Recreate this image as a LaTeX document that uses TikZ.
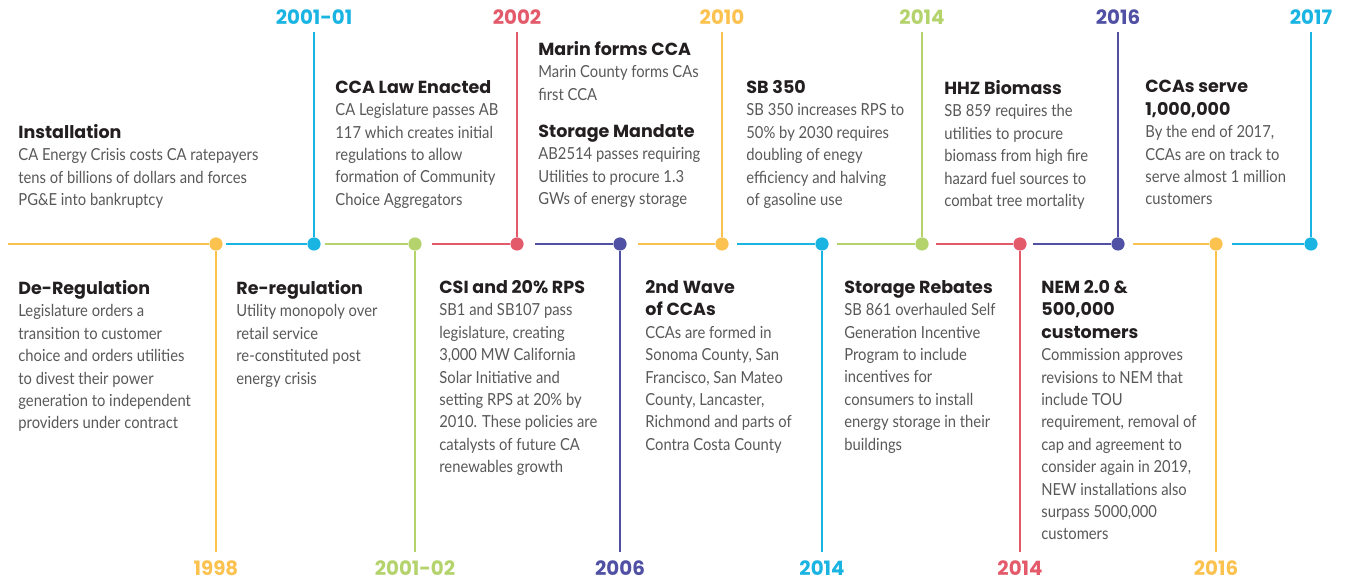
\documentclass[tikz,border=0pt]{standalone}
\usepackage{fontspec}
\setmainfont{Lato}
\newfontfamily\bodyfont[FakeStretch=0.89]{Lato}
\newfontfamily\headfont{Poppins}

\definecolor{tlyellow}{HTML}{FCC250}
\definecolor{tlblue}{HTML}{1AB4E2}
\definecolor{tlgreen}{HTML}{B4D36C}
\definecolor{tlred}{HTML}{E35B6B}
\definecolor{tlpurple}{HTML}{5050A4}
\definecolor{bodygray}{HTML}{58585A}
\definecolor{headblack}{HTML}{231F20}

\newcommand{\evhead}[1]{{\headfont\bfseries\fontsize{8.75}{11.2}\selectfont\color{headblack}#1}}

\tikzset{
    seg/.style={line width=1.35pt},
    dot/.style={circle, inner sep=0pt, minimum size=6.6pt},
    year/.style={font=\headfont\bfseries\fontsize{9.9}{12}\selectfont},
    event/.style={anchor=north west, align=left, inner sep=0pt, text=bodygray,
        font=\bodyfont\fontsize{8.3}{11.2}\selectfont},
}

\begin{document}
\begin{tikzpicture}[x=0.5pt, y=-0.5pt]

    \useasboundingbox (0,0) rectangle (1350,581);

    %% Timeline: coloured segments, dots, stalks and years
    \foreach \i/\xs/\xd/\col/\ye/\yl/\yr in {
        1/8/216/tlyellow/552/568/1998,
        2/226/314/tlblue/32/17/2001-01,
        3/325/415/tlgreen/552/568/2001-02,
        4/432/517/tlred/32/17/2002,
        5/535/620/tlpurple/552/568/2006,
        6/638/722/tlyellow/32/17/2010,
        7/737/822/tlblue/552/568/2014,
        8/837/922/tlgreen/32/17/2014,
        9/936/1020/tlred/552/568/2014,
        10/1033/1118/tlpurple/32/17/2016,
        11/1133/1216/tlyellow/552/568/2016,
        12/1232/1311/tlblue/32/17/2017} {
        \node[dot, fill=\col] (d\i) at (\xd,244) {};
        \coordinate (s\i) at (\xs,244);
        \coordinate (e\i) at (\xd,\ye);
        \node[year, text=\col] (y\i) at (\xd,\yl) {\yr};
        \draw[seg, \col] (s\i) -- (d\i);
        \draw[seg, \col] (d\i) -- (e\i);
    }

    %% Events above the line
    \node[event] (install) at (18,124) {\evhead{Installation}\\
        CA Energy Crisis costs CA ratepayers\\
        tens of billions of dollars and forces\\
        PG\&E into bankruptcy};
    \node[event] (ccalaw) at (335,80) {\evhead{CCA Law Enacted}\\
        CA Legislature passes AB\\
        117 which creates initial\\
        regulations to allow\\
        formation of Community\\
        Choice Aggregators};
    \node[event] (marin) at (538,41) {\evhead{Marin forms CCA}\\
        Marin County forms CAs\\
        first CCA};
    \node[event] (mandate) at (538,124) {\evhead{Storage Mandate}\\
        AB2514 passes requiring\\
        Utilities to procure 1.3\\
        GWs of energy storage};
    \node[event] (sb350) at (746,80) {\evhead{SB 350}\\
        SB 350 increases RPS to\\
        50\% by 2030 requires\\
        doubling of enegy\\
        efficiency and halving\\
        of gasoline use};
    \node[event] (biomass) at (944,80) {\evhead{HHZ Biomass}\\
        SB 859 requires the\\
        utilities to procure\\
        biomass from high fire\\
        hazard fuel sources to\\
        combat tree mortality};
    \node[event] (million) at (1145,80) {\evhead{CCAs serve}\\
        \evhead{1,000,000}\\
        By the end of 2017,\\
        CCAs are on track to\\
        serve almost 1 million\\
        customers};

    %% Events below the line
    \node[event] (dereg) at (18,280) {\evhead{De-Regulation}\\
        Legislature orders a\\
        transition to customer\\
        choice and orders utilities\\
        to divest their power\\
        generation to independent\\
        providers under contract};
    \node[event] (rereg) at (236,280) {\evhead{Re-regulation}\\
        Utility monopoly over\\
        retail service\\
        re-constituted post\\
        energy crisis};
    \node[event] (csi) at (439,280) {\evhead{CSI and 20\% RPS}\\
        SB1 and SB107 pass\\
        legislature, creating\\
        3,000 MW California\\
        Solar Initiative and\\
        setting RPS at 20\% by\\
        2010. These policies are\\
        catalysts of future CA\\
        renewables growth};
    \node[event] (wave) at (645,280) {\evhead{2nd Wave}\\
        \evhead{of CCAs}\\
        CCAs are formed in\\
        Sonoma County, San\\
        Francisco, San Mateo\\
        County, Lancaster,\\
        Richmond and parts of\\
        Contra Costa County};
    \node[event] (rebates) at (844,280) {\evhead{Storage Rebates}\\
        SB 861 overhauled Self\\
        Generation Incentive\\
        Program to include\\
        incentives for\\
        consumers to install\\
        energy storage in their\\
        buildings};
    \node[event] (nem) at (1041,280) {\evhead{NEM 2.0 \&}\\
        \evhead{500,000}\\
        \evhead{customers}\\
        Commission approves\\
        revisions to NEM that\\
        include TOU\\
        requirement, removal of\\
        cap and agreement to\\
        consider again in 2019,\\
        NEW installations also\\
        surpass 5000,000\\
        customers};

\end{tikzpicture}
\end{document}
